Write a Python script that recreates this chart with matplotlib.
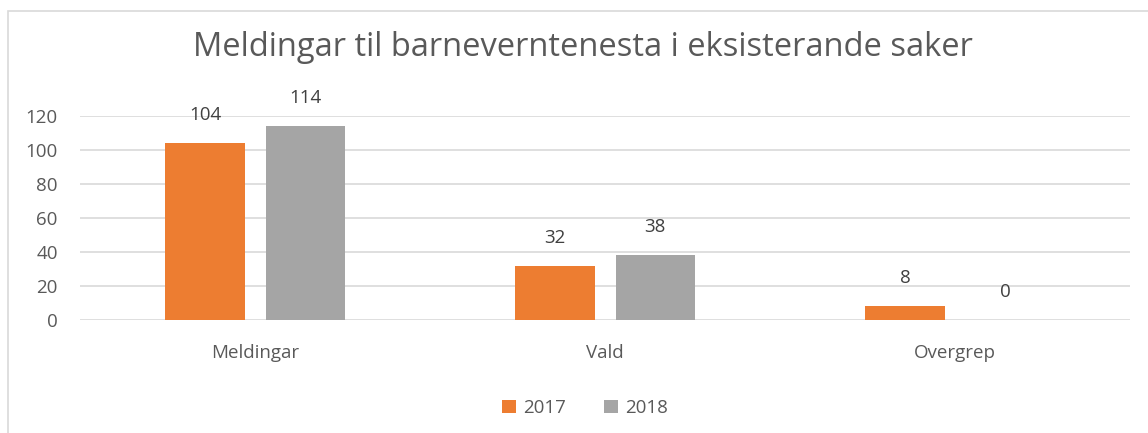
import matplotlib.pyplot as plt
import matplotlib.patches as mpatches
import numpy as np

categories = ['Meldingar', 'Vald', 'Overgrep']
years = ['2017', '2018']
values_2017 = [104, 32, 8]
values_2018 = [114, 38, 0]
yticks = [0, 20, 40, 60, 80, 100, 120]

plt.rcParams['font.family'] = ['Open Sans', 'DejaVu Sans']
text_col = '#595959'
grid_col = '#d9d9d9'
colors = ['#ed7d31', '#a5a5a5']

fig = plt.figure(figsize=(11.48, 4.33), dpi=100)
W, H = 1148, 433

# chart border
fig.patches.append(mpatches.Rectangle((8 / W, -0.1), 1.2, 1 - 11 / H + 0.1,
                                      transform=fig.transFigure, fill=False,
                                      edgecolor=grid_col, linewidth=1.2))

ax = fig.add_axes([80 / W, (H - 320) / H, 1050 / W, 204 / H])
x = np.arange(len(categories))
width = 0.226
offset = 0.143

for i, (vals, col) in enumerate(zip([values_2017, values_2018], colors)):
    pos = x + (i * 2 - 1) * offset
    ax.bar(pos, vals, width=width, color=col, label=years[i], zorder=3)
    for p, v in zip(pos, vals):
        ax.annotate(str(v), (p, v), xytext=(0, 19), textcoords='offset pixels',
                    ha='center', va='bottom', fontsize=13.5, color='#404040',
                    annotation_clip=False)

ax.set_xlim(-0.5, 2.5)
ax.set_ylim(0, 120)
ax.set_yticks(yticks)
ax.set_xticks(x)
ax.set_xticklabels(categories)
ax.tick_params(length=0, labelsize=13.5, labelcolor=text_col)
ax.tick_params(axis='y', pad=16)
ax.tick_params(axis='x', pad=17)
ax.grid(axis='y', color=grid_col, linewidth=1.2, zorder=0)
for s in ax.spines.values():
    s.set_visible(False)

fig.text(583 / W, 1 - 48 / H, 'Meldingar til barneverntenesta i eksisterande saker',
         ha='center', va='center', fontsize=23.5, color=text_col)

fig.legend(loc='center', bbox_to_anchor=(585 / W, 1 - 408 / H), ncol=2,
           frameon=False, fontsize=13.5, handlelength=0.75, handleheight=0.75,
           columnspacing=2.0, handletextpad=0.4, labelcolor=text_col)

fig.savefig('out.png', dpi=100)
